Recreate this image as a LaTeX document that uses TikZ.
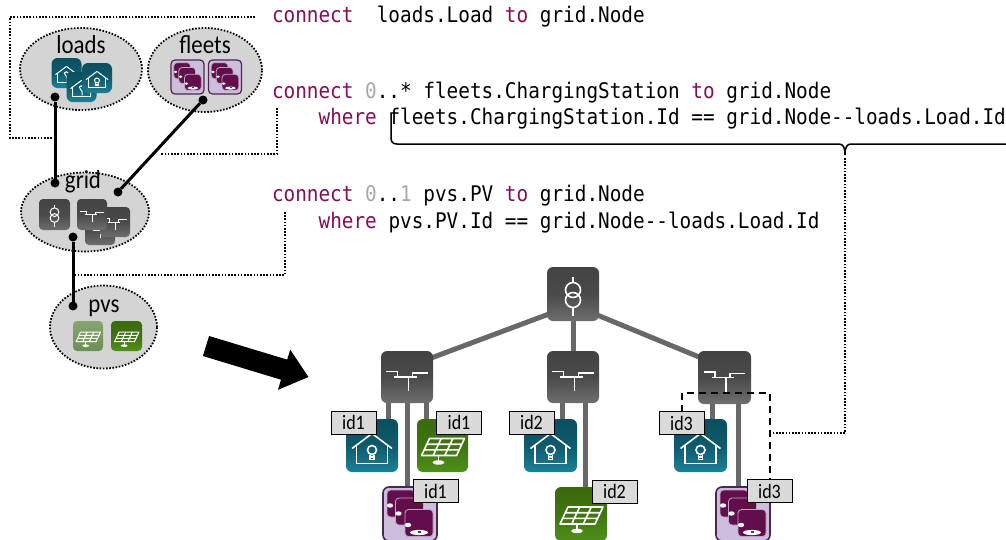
\documentclass[tikz,border=0pt]{standalone}
\usepackage{fontspec}
\setmainfont{Carlito}
\newfontfamily\codefont[FakeStretch=0.9,Ligatures=TeXOff]{DejaVu Sans Mono}
\newfontfamily\lblfont[FakeStretch=0.88]{Carlito}
\usetikzlibrary{shapes.geometric,calc}

\definecolor{kwcol}{HTML}{860D56}
\definecolor{dimcol}{HTML}{A8A8A8}
\definecolor{ellfill}{HTML}{D4D4D4}
\definecolor{labfill}{HTML}{DADADA}
\definecolor{treecol}{HTML}{686868}
\definecolor{tealA}{HTML}{0B4F60}
\definecolor{tealB}{HTML}{0D5A6B}
\definecolor{tealC}{HTML}{1D8197}
\definecolor{grayA}{HTML}{434343}
\definecolor{grayB}{HTML}{4A4A4A}
\definecolor{grayC}{HTML}{6E6E6E}
\definecolor{grnA}{HTML}{3A6A0C}
\definecolor{grnB}{HTML}{3F7410}
\definecolor{grnC}{HTML}{4F8F1C}
\definecolor{lgrnA}{HTML}{86A570}
\definecolor{lgrnC}{HTML}{6C9052}
\definecolor{purpA}{HTML}{640D4C}
\definecolor{purpB}{HTML}{4B2650}
\definecolor{lav}{HTML}{CDBFDC}
\definecolor{lavB}{HTML}{B9A6C9}
\definecolor{carg}{HTML}{1F5A1A}

\newcommand\codekw[1]{\textcolor{kwcol}{#1}}
\newcommand\codedim[1]{\textcolor{dimcol}{#1}}

\pgfdeclarelayer{bg}
\pgfsetlayers{bg,main}

\tikzset{
  every node/.style={inner sep=0pt,outer sep=0pt},
  sym/.style={line width=1.6pt},
  ell/.style={ellipse, fill=ellfill, draw=black, line width=1.8pt, dash pattern=on 1.6pt off 1.6pt},
  elltext/.style={font=\lblfont\fontsize{26}{30}\selectfont, anchor=base},
  code/.style={font=\codefont\fontsize{21.5}{26}\selectfont, anchor=base west},
  idlab/.style={fill=labfill, draw=black, line width=0.9pt, minimum width=45pt, minimum height=23pt,
                font=\lblfont\fontsize{20.5}{22}\selectfont},
  tilesz/.style 2 args={minimum width=#1, minimum height=#2},
  graytile/.style={shade, top color=grayA, bottom color=grayC, middle color=grayB, rounded corners=6pt},
  tealtile/.style={shade, top color=tealA, bottom color=tealC, middle color=tealB, rounded corners=6pt},
  greentile/.style={shade, top color=grnA, bottom color=grnC, middle color=grnB, rounded corners=6pt},
  lgreentile/.style={shade, top color=lgrnA, bottom color=lgrnC, rounded corners=4pt},
  fleettile/.style={fill=lav, draw=purpB, line width=1.6pt, rounded corners=6pt},
  dotn/.style={circle, fill=black, minimum size=9pt},
  blkline/.style={line width=3pt},
  treeline/.style={line width=5pt, draw=treecol},
  dotline/.style={line width=1.8pt, dash pattern=on 1.6pt off 1.6pt},
  dashline/.style={line width=2pt, dash pattern=on 7pt off 5pt},
  % symbols drawn on the tiles (sized for a 52 unit tile)
  trafo/.pic={
    \draw[white,sym] (0,-4) circle (7.5) (0,6) circle (7.5);
    \draw[white,sym] (0,-17) -- (0,-11.5) (0,13.5) -- (0,22);
  },
  busbar/.pic={
    \draw[white,sym] (-21,-5.5) -- (-9.5,-5.5) -- (-9.5,0) (-13,0) -- (9.5,0)
                     (5.5,0) -- (5.5,-4) -- (20.5,-4) (1.3,0) -- (1.3,14);
  },
  housebulb/.pic={
    \draw[white,sym,line join=round] (-20,3) -- (0,-12) -- (20,3);
    \draw[white,sym] (-15.5,-0.5) -- (-15.5,18) -- (15.5,18) -- (15.5,-0.5);
    \draw[white,sym] (0,4.5) circle (4.5);
    \draw[white,sym] (-2,9) -- (-2,14) -- (2,14) -- (2,9) (-2,11.5) -- (2,11.5);
  },
  houseplug/.pic={
    \draw[white,sym,line join=round] (-20,3) -- (0,-12) -- (20,3);
    \draw[white,sym] (-15.5,-0.5) -- (-15.5,18) -- (15.5,18) -- (15.5,-0.5);
    \draw[white,sym] (1,15) -- (1,8) .. controls (1,3) and (-5,5) .. (-4,0) .. controls (-3,-3) and (2,-3) .. (3,0);
  },
  pvsym/.pic={
    \draw[white,sym,line join=round] (-13,-7) -- (22,-7) -- (14,10) -- (-21,10) -- cycle;
    \draw[white,sym] (-15.7,-1.3) -- (19.3,-1.3) (-18.3,4.3) -- (16.7,4.3)
                     (-1.3,-7) -- (-9.3,10) (10.3,-7) -- (2.3,10);
    \draw[white,sym] (-4,10) -- (-4,15);
    \fill[white] (-4,17) ellipse (6 and 2.2);
  },
  fleetsym/.pic={
    \foreach \dx/\dy in {-9/-10.5, -0.5/-2.5, 9/9} {
      \filldraw[fill=purpA, draw=lavB, line width=0.8pt, rounded corners=3.5pt]
        (\dx-14,\dy-13.5) rectangle (\dx+14,\dy+13.5);
      \fill[white] (\dx-11,\dy+2) ellipse (3.2 and 2.2);
    }
    \fill[white] (9,18.5) ellipse (9 and 2.6);
    \fill[carg] (7.5,16.5) rectangle (11,19);
  },
}

\begin{document}
\begin{tikzpicture}[x=1pt,y=-1pt]
\useasboundingbox (0,0) rectangle (1006,539);

% ---------- model packages ----------
\node[ell, minimum width=122pt, minimum height=82pt] (loads) at (81,69) {};
\node[elltext] at (81,53) {loads};
\node[ell, minimum width=114pt, minimum height=84pt] (fleets) at (205,70) {};
\node[elltext] at (205,53) {fleets};
\node[ell, minimum width=128pt, minimum height=79pt] (grid) at (85,212) {};
\node[elltext] at (83,188) {grid};
\node[ell, minimum width=107pt, minimum height=83pt] (pvs) at (103.5,327) {};
\node[elltext] at (104,312) {pvs};

% load icons
\node[tealtile, tilesz={30pt}{30pt}] (ld1) at (66.5,73) {};
\pic[scale=0.55, sym/.style={line width=1pt}] at (ld1) {houseplug};
\node[tealtile, tilesz={30pt}{30pt}] (ld2) at (81.5,87) {};
\pic[scale=0.55, sym/.style={line width=1pt}] at (ld2) {houseplug};
\node[tealtile, tilesz={30pt}{30pt}] (ld3) at (97,78) {};
\pic[scale=0.55, sym/.style={line width=1pt}] at (ld3) {housebulb};

% fleet icons
\node[fleettile, rounded corners=4pt, line width=1.2pt, tilesz={33pt}{34pt}] (fl1) at (187.5,77) {};
\pic[scale=0.6] at (fl1) {fleetsym};
\node[fleettile, rounded corners=4pt, line width=1.2pt, tilesz={33pt}{34pt}] (fl2) at (225,77) {};
\pic[scale=0.6] at (fl2) {fleetsym};

% grid icons
\node[graytile, rounded corners=4pt, tilesz={31pt}{31pt}] (gt) at (54.5,214.5) {};
\pic[scale=0.58, sym/.style={line width=1pt}] at (gt) {trafo};
\node[graytile, rounded corners=4pt, tilesz={30pt}{30pt}] (gb3) at (100,230) {};
\pic[scale=0.57, sym/.style={line width=1pt}] at (gb3) {busbar};
\node[graytile, rounded corners=4pt, tilesz={30pt}{30pt}] (gb2) at (115,222) {};
\pic[scale=0.57, sym/.style={line width=1pt}] at (gb2) {busbar};
\node[graytile, rounded corners=4pt, tilesz={30pt}{31pt}] (gb1) at (92,214.5) {};
\pic[scale=0.57, sym/.style={line width=1pt}] at (gb1) {busbar};

% pv icons
\node[lgreentile, tilesz={30pt}{30pt}] (pva) at (88,336) {};
\pic[scale=0.57, sym/.style={line width=1pt}] at (pva) {pvsym};
\node[greentile, rounded corners=4pt, tilesz={31pt}{30pt}] (pvb) at (126.5,336) {};
\pic[scale=0.57, sym/.style={line width=1pt}] at (pvb) {pvsym};

% association ends
\node[dotn] (dL) at (55,97) {};
\node[dotn] (dG1) at (55,183) {};
\node[dotn] (dF) at (203,100) {};
\node[dotn] (dG2) at (118,192) {};
\node[dotn] (dG3) at (73,237) {};
\node[dotn] (dP) at (73,306) {};
\draw[blkline] (dL) -- (dG1);
\draw[blkline] (dF) -- (dG2);
\draw[blkline] (dG3) -- (dP);

% ---------- connect statements ----------
\node[code] (c1) at (272,22) {\codekw{connect}\ \ loads.Load \codekw{to} grid.Node};
\node[code] (c2) at (272,98) {\codekw{connect} \codedim{0}..* fleets.ChargingStation \codekw{to} grid.Node};
\node[code] (c3) at (318.6,124) {\codekw{where} fleets.ChargingStation.Id == grid.Node--loads.Load.Id};
\node[code] (c4) at (272,201) {\codekw{connect} \codedim{0}..\codedim{1} pvs.PV \codekw{to} grid.Node};
\node[code] (c5) at (318.6,228) {\codekw{where} pvs.PV.Id == grid.Node--loads.Load.Id};

% statement callouts
\coordinate (k1) at (255,17);
\coordinate (k1c) at (10,138);
\coordinate (m1) at (55,138);
\draw[dotline] (k1) -| (k1c) -- (m1);
\coordinate (k2) at (277,108);
\coordinate (m2) at (160,154);
\draw[dotline] (k2) |- (m2);
\coordinate (k3) at (285,212);
\coordinate (m3) at (73,275);
\draw[dotline] (k3) |- (m3);

% brace under the where clause
\coordinate (brL) at (391,113);
\coordinate (brtip) at (845,158);
\draw[line width=1.5pt] (brL) -- (391,138) .. controls (391,142) and (393,144) .. (397,144)
  -- (839,144) .. controls (843,144) and (845,147) .. (845,155)
  .. controls (845,147) and (847,144) .. (851,144) -- (1012,144);

% ---------- big arrow ----------
\fill[black] (209.1,336.0) -- (287.2,359.6) -- (290.2,349.6) -- (308.5,377) -- (278.0,389.8)
  -- (281.0,379.7) -- (202.9,356.0) -- cycle;

% ---------- instance tree ----------
\node[graytile, tilesz={52pt}{54pt}] (tr) at (573,294) {};
\pic at (tr) {trafo};
\node[graytile, tilesz={52pt}{52pt}] (b1) at (407,377) {};
\pic at (b1) {busbar};
\node[graytile, tilesz={52pt}{52pt}] (b2) at (573,377) {};
\pic at (b2) {busbar};
\node[graytile, tilesz={53pt}{53pt}] (b3) at (724.5,377.5) {};
\pic at (b3) {busbar};

\node[tealtile, tilesz={52pt}{53pt}] (h1) at (372,445.5) {};
\pic at (h1) {housebulb};
\node[greentile, tilesz={51pt}{53pt}] (pv1) at (442.5,445.5) {};
\pic at (pv1) {pvsym};
\node[fleettile, tilesz={54pt}{54pt}] (f1) at (410,514) {};
\pic at (f1) {fleetsym};

\node[tealtile, tilesz={53pt}{53pt}] (h2) at (550.5,445.5) {};
\pic at (h2) {housebulb};
\node[greentile, tilesz={52pt}{54pt}] (pv2) at (581,514) {};
\pic at (pv2) {pvsym};

\node[tealtile, tilesz={53pt}{53pt}] (h3) at (700.5,445.5) {};
\pic at (h3) {housebulb};
\node[fleettile, tilesz={54pt}{54pt}] (f3) at (743,514) {};
\pic at (f3) {fleetsym};

\begin{pgfonlayer}{bg}
  \draw[treeline] ($(tr.center)+(0,11)$) -- ($(b1.center)+(0,-10)$);
  \draw[treeline] ($(tr.center)+(0,11)$) -- ($(b3.center)+(0,-10)$);
  \draw[treeline] (tr) -- (b2);
  \draw[treeline] ([xshift=-19pt]b1.center) -- ([xshift=-19pt]b1.center |- h1.center);
  \draw[treeline] (b1.center) -- (b1.center |- f1.center);
  \draw[treeline] ([xshift=19pt]b1.center) -- ([xshift=19pt]b1.center |- pv1.center);
  \draw[treeline] ([xshift=-11pt]b2.center) -- ([xshift=-11pt]b2.center |- h2.center);
  \draw[treeline] ([xshift=12pt]b2.center) -- ([xshift=12pt]b2.center |- pv2.center);
  \draw[treeline] ([xshift=-12.5pt]b3.center) -- ([xshift=-12.5pt]b3.center |- h3.center);
  \draw[treeline] ([xshift=13.5pt]b3.center) -- ([xshift=13.5pt]b3.center |- f3.center);
\end{pgfonlayer}

% id labels
\node[idlab] (lh1) at (353.5,422.5) {id1};
\node[idlab] (lpv1) at (459,422.5) {id1};
\node[idlab] (lf1) at (435.5,491) {id1};
\node[idlab] (lh2) at (531.5,422.5) {id2};
\node[idlab] (lpv2) at (614.5,491.5) {id2};
\node[idlab] (lh3) at (681.5,423) {id3};
\node[idlab] (lf3) at (769.5,491) {id3};

% matched pair for id3
\draw[dashline] (lh3.north) -- ++(0,-19) -| (lf3.north);
\coordinate (m4) at (769.5,433);
\draw[dotline] (brtip) |- (m4);
\end{tikzpicture}
\end{document}
